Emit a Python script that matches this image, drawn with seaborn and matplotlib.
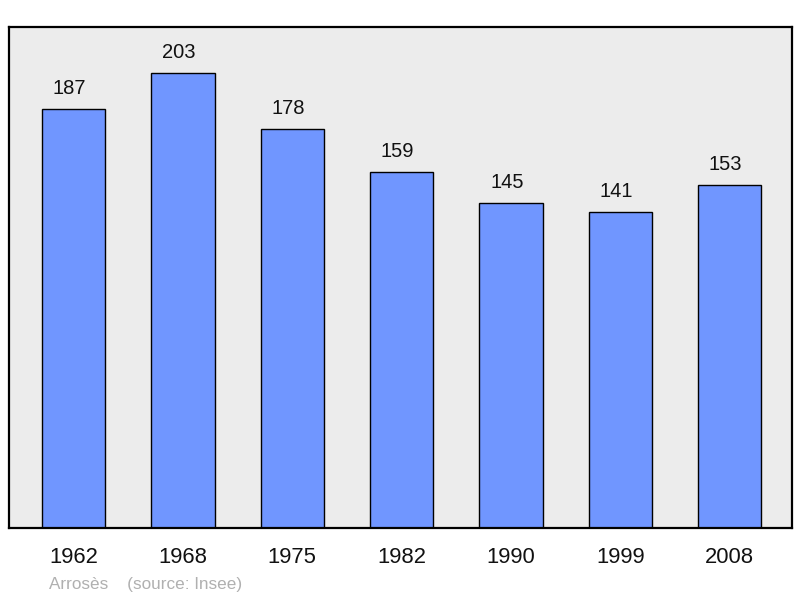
import matplotlib
matplotlib.use("Agg")
import matplotlib.pyplot as plt
import seaborn as sns

years = ["1962", "1968", "1975", "1982", "1990", "1999", "2008"]
population = [187, 203, 178, 159, 145, 141, 153]

sns.set_style("white")
plt.rcParams["font.family"] = ["Liberation Sans", "DejaVu Sans"]

fig = plt.figure(figsize=(8, 5.98), dpi=100)
ax = fig.add_axes([9 / 800, 70 / 598, 783 / 800, 501 / 598])
ax.set_facecolor("#ececec")

sns.barplot(x=years, y=population, color="#7096ff", saturation=1, width=0.58,
            edgecolor="black", linewidth=1, ax=ax)

for i, v in enumerate(population):
    ax.annotate(str(v), (i, v), xytext=(-3, 8), textcoords="offset points",
                ha="center", va="bottom", fontsize=14.5, color="#111111")

ax.set_xlim(-0.59, 6.57)
ax.set_ylim(0, 223.6)
ax.set_yticks([])
ax.set_xlabel("")
ax.set_ylabel("")
ax.tick_params(axis="x", length=0, pad=14, labelsize=15.8, labelcolor="#111111")
for s in ax.spines.values():
    s.set_visible(True)
    s.set_color("black")
    s.set_linewidth(1.6)

fig.text(49 / 800, 1 - 584 / 598, "Arrosès    (source: Insee)", ha="left",
         va="center", fontsize=12.3, color="#b0b0b0")

fig.savefig("out.png", dpi=100)
